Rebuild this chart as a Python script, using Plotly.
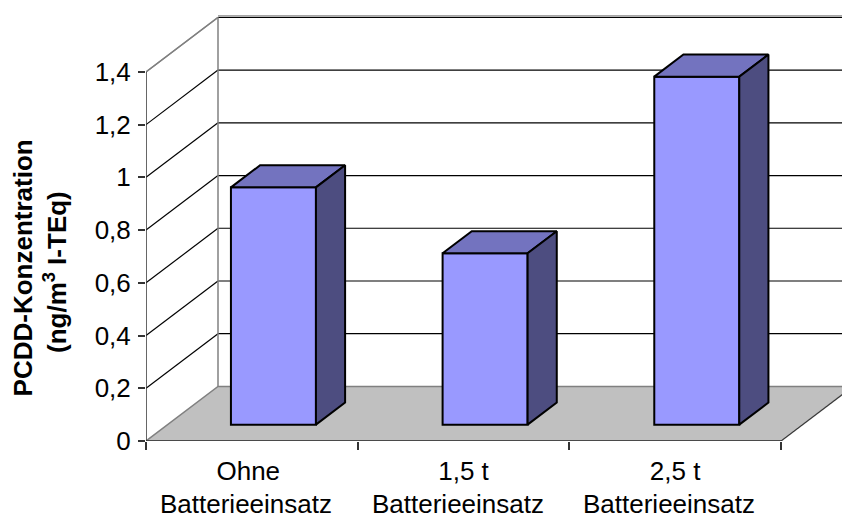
import plotly.graph_objects as go

line1 = ["Ohne", "1,5 t", "2,5 t"]
line2 = ["Batterieeinsatz", "Batterieeinsatz", "Batterieeinsatz"]
values = [0.90, 0.65, 1.32]
y_ticks = [0, 0.2, 0.4, 0.6, 0.8, 1, 1.2, 1.4]
y_labels = ["0", "0,2", "0,4", "0,6", "0,8", "1", "1,2", "1,4"]
cat_edges = [0, 1, 2, 3]
title_line1 = "PCDD-Konzentration"
title_line2 = "(ng/m<sup>3</sup> I-TEq)"

# oblique projection (depth in axis units)
DX = 72 / 211.67
DY = 54.5 / 263.4
BAR_W = 0.4016
BAR_D0 = 0.30
BAR_D1 = 0.705
X_MAX = 696 / 211.67
Y_MAX = 440.6 / 263.4
YMAX_TICK = y_ticks[-1]
XEND = cat_edges[-1]
FONT = "Liberation Sans, Arial, sans-serif"


def P(x, v, d):
    return x + d * DX, v + d * DY


fig = go.Figure()
shapes = []


def poly(points, fill, line, w):
    path = "M " + " L ".join(f"{x},{y}" for x, y in points) + " Z"
    shapes.append(dict(type="path", path=path, xref="x", yref="y", fillcolor=fill,
                       line=dict(color=line, width=w), layer="below"))


def seg(a, b, color, w):
    shapes.append(dict(type="line", xref="x", yref="y", x0=a[0], y0=a[1], x1=b[0], y1=b[1],
                       line=dict(color=color, width=w), layer="below"))


poly([P(0, 0, 0), P(XEND, 0, 0), P(XEND, 0, 1), P(0, 0, 1)], "#C0C0C0", "#808080", 1.5)
seg(P(XEND, 0, 0), P(XEND, 0, 1), "#333333", 1)
for t in y_ticks[1:]:
    seg(P(0, t, 0), P(0, t, 1), "#000000" if t != YMAX_TICK else "#808080", 1.2)
    seg(P(0, t, 1), P(XEND, t, 1), "#000000", 1.2)
wall_top = YMAX_TICK + 1.5 / 263.4
seg(P(0, wall_top, 1), P(XEND, wall_top, 1), "#A6A6A6", 1.5)
seg(P(0, 0, 1), P(0, YMAX_TICK, 1), "#808080", 1.5)
seg(P(0, YMAX_TICK, 0), P(0, YMAX_TICK, 1), "#808080", 1.5)

centers = [i + 0.5 + BAR_D0 * DX for i in range(len(values))]
fig.add_trace(go.Bar(
    x=centers, y=values, base=[BAR_D0 * DY] * len(values), width=BAR_W,
    marker=dict(color="#9999FF", line=dict(color="#000000", width=2)),
    hoverinfo="skip", showlegend=False))

BAR_DEPTH = BAR_D1 - BAR_D0
for c, v in zip(centers, values):
    l, r = c - BAR_W / 2, c + BAR_W / 2
    base = BAR_D0 * DY
    pts = [P(l, v, 0), P(r, v, 0), P(r, v, BAR_DEPTH), P(l, v, BAR_DEPTH)]
    tx = [p[0] for p in pts] + [pts[0][0]]
    ty = [p[1] + base for p in pts] + [pts[0][1] + base]
    fig.add_trace(go.Scatter(x=tx, y=ty, mode="lines", fill="toself", fillcolor="#7373BF",
                             line=dict(color="#000000", width=2), hoverinfo="skip", showlegend=False))
    pts = [P(r, 0, 0), P(r, v, 0), P(r, v, BAR_DEPTH), P(r, 0, BAR_DEPTH)]
    sx = [p[0] for p in pts] + [pts[0][0]]
    sy = [p[1] + base for p in pts] + [pts[0][1] + base]
    fig.add_trace(go.Scatter(x=sx, y=sy, mode="lines", fill="toself", fillcolor="#4D4D80",
                             line=dict(color="#000000", width=2), hoverinfo="skip", showlegend=False))

fig.add_trace(go.Scatter(x=[0, XEND], y=[0, 0], mode="lines", cliponaxis=False,
                         line=dict(color="#333333", width=1.5), hoverinfo="skip", showlegend=False))
fig.add_trace(go.Scatter(x=[0, 0], y=[0, YMAX_TICK], mode="lines", cliponaxis=False,
                         line=dict(color="#333333", width=1.5), hoverinfo="skip", showlegend=False))

annotations = [
    dict(x=i + 0.5, y=0, xref="x", yref="paper", yanchor="top", xshift=-6, yshift=-47,
         borderpad=0, showarrow=False, text=t,
         font=dict(family=FONT, size=26, color="#000000"))
    for i, t in enumerate(line2)
]
annotations.append(dict(xref="paper", yref="paper", x=0, y=0, xanchor="center", yanchor="middle",
                        xshift=-123, yshift=172.6, textangle=-90, showarrow=False, text=title_line1,
                        font=dict(family=FONT, size=26, color="#000000", weight="bold")))
annotations.append(dict(xref="paper", yref="paper", x=0, y=0, xanchor="center", yanchor="middle",
                        xshift=-91, yshift=169, textangle=-90, showarrow=False, text=title_line2,
                        font=dict(family=FONT, size=26, color="#000000", weight="bold")))

fig.update_layout(
    width=842, height=519, margin=dict(l=146, r=0, t=0, b=78.4),
    paper_bgcolor="#FFFFFF", plot_bgcolor="#FFFFFF", showlegend=False,
    shapes=shapes, annotations=annotations,
    font=dict(family=FONT, color="#000000"),
    xaxis=dict(range=[0, X_MAX], showgrid=False, zeroline=False, showline=False,
               tickmode="array", tickvals=[0.483, 1.5, 2.5], ticktext=line1, ticks="",
               tickfont=dict(size=26), ticklen=0, ticklabelstandoff=12,
               minor=dict(tickmode="array", tickvals=cat_edges, ticks="outside", ticklen=8,
                          tickcolor="#333333", tickwidth=1.5, showgrid=False)),
    yaxis=dict(range=[0, Y_MAX], showgrid=False, zeroline=False, showline=False,
               tickmode="array", tickvals=y_ticks, ticktext=y_labels, ticks="outside",
               ticklen=7, tickcolor="#333333", tickwidth=1.5, tickfont=dict(size=26),
               ticklabelstandoff=2),
)

fig.write_html("out.html", config={"displayModeBar": False},
               post_script="document.body.style.margin='0';document.body.style.overflow='hidden';")
